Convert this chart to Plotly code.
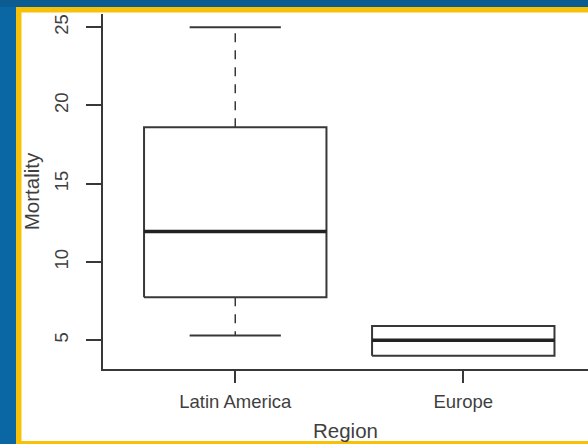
import plotly.graph_objects as go

# ---- data ----
regions = ["Latin America", "Europe"]
lower_whisker = [5.3, 4.0]
q1 = [7.75, 4.0]
median = [11.95, 5.0]
q3 = [18.6, 5.9]
upper_whisker = [25.0, 5.9]
y_ticks = [5, 10, 15, 20, 25]

# ---- layout constants ----
W, H = 588, 444
ML, MR, MT, MB = 103, 0, 14, 75
BOX_HALF = 0.4
CAP_HALF = 0.2
LINE = "#383838"
FONT = "Liberation Sans, Arial, Helvetica, sans-serif"
BLUE = "#0b67a3"
BLUE_TOP = "#0a5c91"
YELLOW = "#f7c108"
DASH = "9px,8px"

fig = go.Figure()
common = dict(mode="lines", hoverinfo="skip", showlegend=False)
for i, name in enumerate(regions):
    x = i + 1
    # whiskers (dashed) and caps
    if upper_whisker[i] > q3[i]:
        fig.add_trace(go.Scatter(x=[x, x], y=[q3[i], upper_whisker[i]],
                                 line=dict(color=LINE, width=1.5, dash=DASH), **common))
        fig.add_trace(go.Scatter(x=[x - CAP_HALF, x + CAP_HALF], y=[upper_whisker[i]] * 2,
                                 line=dict(color=LINE, width=2), **common))
    if lower_whisker[i] < q1[i]:
        fig.add_trace(go.Scatter(x=[x, x], y=[q1[i], lower_whisker[i]],
                                 line=dict(color=LINE, width=1.5, dash=DASH), **common))
        fig.add_trace(go.Scatter(x=[x - CAP_HALF, x + CAP_HALF], y=[lower_whisker[i]] * 2,
                                 line=dict(color=LINE, width=2), **common))
    # box
    fig.add_trace(go.Scatter(
        x=[x - BOX_HALF, x + BOX_HALF, x + BOX_HALF, x - BOX_HALF, x - BOX_HALF],
        y=[q1[i], q1[i], q3[i], q3[i], q1[i]],
        line=dict(color=LINE, width=2), **common))
    # median
    fig.add_trace(go.Scatter(x=[x - BOX_HALF, x + BOX_HALF], y=[median[i]] * 2,
                             line=dict(color="#222222", width=3.5), **common))

lo, hi = min(lower_whisker), max(upper_whisker)
pad = 0.04 * (hi - lo)

pw = W - ML - MR
ph = H - MT - MB


def px_x(p):
    return (p - ML) / pw


def px_y(p):
    return (H - MB - p) / ph


shapes = [
    dict(type="rect", xref="paper", yref="paper", layer="below",
         x0=px_x(-5), x1=px_x(W + 5), y0=px_y(-5), y1=px_y(7),
         fillcolor=BLUE_TOP, line=dict(width=0)),
    dict(type="rect", xref="paper", yref="paper", layer="below",
         x0=px_x(16), x1=px_x(W + 10), y0=px_y(7), y1=px_y(H + 10),
         fillcolor=YELLOW, line=dict(width=0)),
    dict(type="rect", xref="paper", yref="paper", layer="below",
         x0=px_x(21.5), x1=px_x(W + 10), y0=px_y(12.5), y1=px_y(441),
         fillcolor="white", line=dict(width=0)),
]

fig.update_layout(
    width=W, height=H,
    margin=dict(l=ML, r=MR, t=MT, b=MB, pad=0),
    paper_bgcolor=BLUE,
    plot_bgcolor="rgba(0,0,0,0)",
    font=dict(family=FONT, color="#3a3a3a"),
    shapes=shapes,
    xaxis=dict(
        range=[0.42, 2.547], tickmode="array", tickvals=[1, 2], ticktext=regions,
        showline=True, linecolor=LINE, linewidth=1.5, ticks="outside", ticklen=12,
        tickwidth=1.5, tickcolor=LINE, showgrid=False, zeroline=False,
        tickfont=dict(size=18.5, color="#3f3f3f"), ticklabelstandoff=3,
        title=dict(text="Region", font=dict(size=20.5, color="#3f3f3f"), standoff=13),
    ),
    yaxis=dict(
        range=[lo - pad, hi + pad], tickmode="array", tickvals=y_ticks,
        showline=True, linecolor=LINE, linewidth=1.5, ticks="outside", ticklen=15,
        tickwidth=1.5, tickcolor=LINE, showgrid=False, zeroline=False, tickangle=-90,
        tickfont=dict(size=18.5, color="#3f3f3f"), ticklabelstandoff=11,
        title=dict(text="Mortality", font=dict(size=20.5, color="#3f3f3f"), standoff=6),
    ),
)

fig.write_html(
    "out.html",
    config={"displayModeBar": False},
    post_script="document.body.style.margin='0';document.body.style.overflow='hidden';",
)
